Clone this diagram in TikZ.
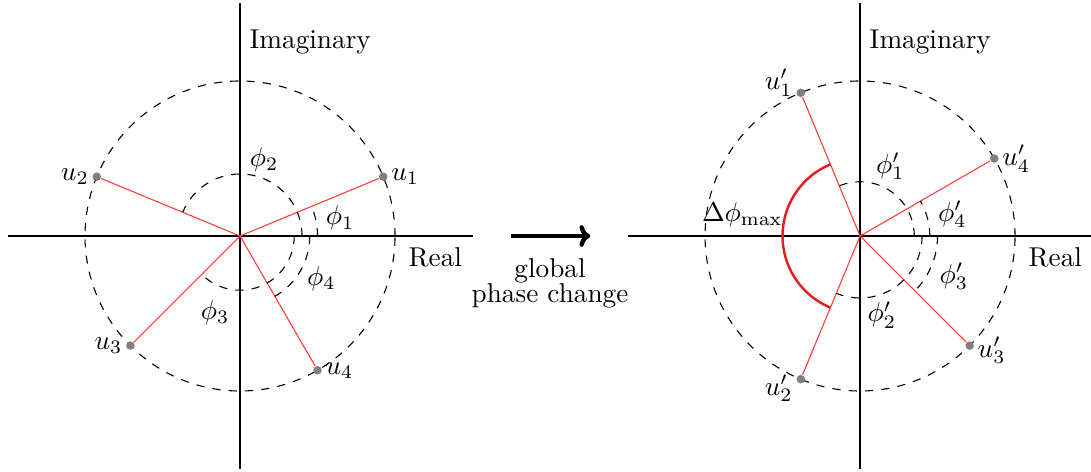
\documentclass[tikz,border=0pt]{standalone}
\usetikzlibrary{arrows.meta}
\definecolor{arcred}{RGB}{228,30,30}
\definecolor{rayred}{RGB}{255,60,60}
\tikzset{
  axis/.style={line width=0.8pt},
  circ/.style={dashed,thin},
  arcd/.style={dashed,thin},
  ray/.style={draw=rayred,line width=0.4pt},
  pt/.style={circle,fill=gray,inner sep=0pt,minimum size=0.11cm},
  lbl/.style={inner sep=1pt},
}
\begin{document}
\begin{tikzpicture}
\useasboundingbox (-3.097,-3.045) rectangle (10.98,3.045);
% ---------- left ----------
\coordinate (O) at (0,0);
\coordinate (xl) at (-3,0); \coordinate (xr) at (3,0);
\coordinate (yb) at (0,-3); \coordinate (yt) at (0,3);
\draw[axis] (xl) -- (xr);
\draw[axis] (yb) -- (yt);
\draw[circ] (O) circle (2);
\node[pt] (u1) at (22.5:2) {};
\node[pt] (u2) at (157.5:2) {};
\node[pt] (u3) at (225:2) {};
\node[pt] (u4) at (-60:2) {};
\draw[ray] (O) -- (u1);
\draw[ray] (O) -- (u2);
\draw[ray] (O) -- (u3);
\draw[ray] (O) -- (u4);
\draw[arcd] (1,0) arc (0:22.5:1);
\draw[arcd] (0.8,0) arc (0:157.5:0.8);
\draw[arcd] (0.7,0) arc (0:-135:0.7);
\draw[arcd] (0.9,0) arc (0:-60:0.9);
\node[anchor=west] (im1) at (0.0,2.5) {Imaginary};
\node (re1) at (2.52,-0.27) {Real};
\node[lbl,anchor=west] (lu1) at (u1.east) {$u_1$};
\node[lbl,anchor=east] (lu2) at (u2.west) {$u_2$};
\node[lbl,anchor=east] (lu3) at (u3.west) {$u_3$};
\node[lbl,anchor=west] (lu4) at (u4.east) {$u_4$};
\node (p1) at (1.29,0.23) {$\phi_1$};
\node (p2) at (0.31,0.98) {$\phi_2$};
\node (p3) at (-0.32,-0.99) {$\phi_3$};
\node (p4) at (1.05,-0.55) {$\phi_4$};
% ---------- arrow ----------
\coordinate (a1) at (3.5,0); \coordinate (a2) at (4.52,0);
\draw[line width=1.6pt,-{To[length=4pt,width=8pt]}] (a1) -- (a2);
\node[align=center,inner sep=0pt] (gpc) at (4.0,-0.61) {global\\[-3pt]phase change};
% ---------- right ----------
\begin{scope}[xshift=8cm]
\coordinate (R) at (0,0);
\coordinate (xl2) at (-3,0); \coordinate (xr2) at (3,0);
\coordinate (yb2) at (0,-3); \coordinate (yt2) at (0,3);
\draw[axis] (xl2) -- (xr2);
\draw[axis] (yb2) -- (yt2);
\draw[circ] (R) circle (2);
\node[pt] (v1) at (112.5:2) {};
\node[pt] (v2) at (247.5:2) {};
\node[pt] (v3) at (-45:2) {};
\node[pt] (v4) at (30:2) {};
\draw[ray] (R) -- (v1);
\draw[ray] (R) -- (v2);
\draw[ray] (R) -- (v3);
\draw[ray] (R) -- (v4);
\draw[arcd] (0.7,0) arc (0:112.5:0.7);
\draw[arcd] (0.8,0) arc (0:-112.5:0.8);
\draw[arcd] (1.0,0) arc (0:-45:1.0);
\draw[arcd] (0.9,0) arc (0:30:0.9);
\draw[arcred,line width=0.9pt] (112.5:1) arc (112.5:247.5:1);
\node[anchor=west] (im2) at (0.0,2.5) {Imaginary};
\node (re2) at (2.52,-0.27) {Real};
\node[lbl,anchor=south east,yshift=-0.09cm] (lv1) at (v1.west) {$u_1'$};
\node[lbl,anchor=north east,yshift=0.1cm] (lv2) at (v2.west) {$u_2'$};
\node[lbl,anchor=west,yshift=-0.06cm] (lv3) at (v3.east) {$u_3'$};
\node[lbl,anchor=west] (lv4) at (v4.east) {$u_4'$};
\node (q1) at (0.39,0.90) {$\phi_1'$};
\node (q2) at (0.28,-1.02) {$\phi_2'$};
\node (q3) at (1.21,-0.52) {$\phi_3'$};
\node (q4) at (1.19,0.28) {$\phi_4'$};
\node (dm) at (-1.52,0.28) {$\Delta\phi_{\max}$};
\end{scope}
\end{tikzpicture}
\end{document}
